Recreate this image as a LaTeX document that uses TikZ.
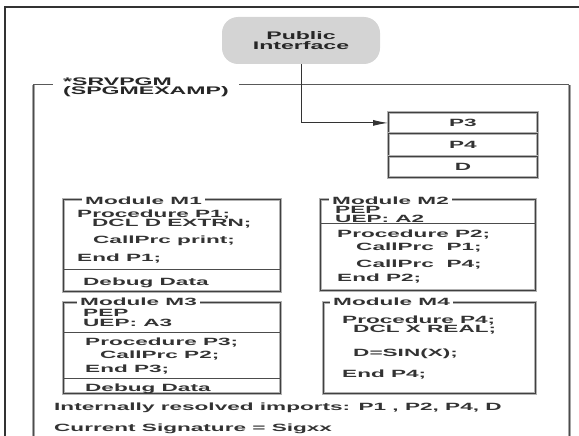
\documentclass[tikz,border=0pt]{standalone}
\usepackage{fontspec}
\usetikzlibrary{arrows.meta}
\newfontfamily\bodyfont{Liberation Sans}[FakeStretch=2.15]
\newfontfamily\headfont{Liberation Sans}[FakeStretch=2.1]

\tikzset{
  outerline/.style={draw=black!80, line width=1.4pt},
  sideline/.style={draw=black!70, line width=0.8pt, preaction={draw=black!35, line width=3pt}},
  topline/.style={draw=black!65, line width=1pt},
  boxline/.style={draw=black!75, line width=0.8pt, preaction={draw=black!30, line width=2.4pt}},
  modbox/.style={boxline, rectangle, inner sep=0pt, anchor=north west},
  sepline/.style={draw=black!70, line width=0.8pt},
  codetext/.style={anchor=base west, inner sep=0pt, text=black!80,
    text height=7.5pt, text depth=1pt,
    font=\bodyfont\bfseries\fontsize{10.5}{10.5}\selectfont},
  modtitle/.style={anchor=base west, fill=white, inner xsep=3pt, inner ysep=0.3pt,
    text height=7.5pt, text depth=1pt,
    text=black!80, font=\bodyfont\bfseries\fontsize{10.5}{10.5}\selectfont},
  headtext/.style={text=black!85, align=center,
    font=\headfont\bfseries\fontsize{11}{9.5}\selectfont},
  tablerow/.style={boxline, rectangle, inner sep=0pt, anchor=north west,
    minimum width=149pt, text=black!80, font=\bodyfont\bfseries\fontsize{10.5}{10.5}\selectfont},
  arrowline/.style={draw=black!80, line width=0.9pt, -{Latex[length=15pt,width=6pt]}}
}

\begin{document}
\begin{tikzpicture}[x=1pt,y=-1pt]
\useasboundingbox (0,0) rectangle (579,436);
\clip (0,0) rectangle (579,436);

% page frame, running off the right and bottom edges
\coordinate (pgbl) at (5,470);
\coordinate (pgtl) at (5,7);
\coordinate (pgtr) at (600,7);
\draw[outerline] (pgbl) -- (pgtl) -- (pgtr);

% service program frame
\coordinate (sbl) at (33,470);
\coordinate (stl) at (33,85);
\coordinate (str) at (569,85);
\coordinate (sbr) at (569,470);
\draw[topline] (stl) -- (str);
\draw[sideline] (sbl) -- (stl);
\draw[sideline] (str) -- (sbr);
\node (srv) [headtext, align=left, anchor=west, fill=white, inner xsep=10pt, inner ysep=1pt]
  at (53,87.5) {*SRVPGM\\(SPGMEXAMP)};

% public interface and export table
\node (pi) [headtext, fill=black!17, rounded corners=16pt, minimum width=158pt,
  minimum height=47pt, inner sep=0pt] at (301,40.5) {Public\\Interface};

\node (p3) [tablerow, minimum height=21pt] at (388,112) {P3};
\node (p4) [tablerow, minimum height=23pt] at (388,133) {P4};
\node (d)  [tablerow, minimum height=21pt] at (388,156) {D};
\draw[arrowline] (pi.south) |- (p3.west);

% Module M1
\node (m1) [modbox, minimum width=217pt, minimum height=92pt] at (63,199) {};
\coordinate (m1s) at (0,269);
\draw[sepline] (m1.west |- m1s) -- (m1.east |- m1s);
\node (m1t) [modtitle] at (82,204) {Module M1};
\node (m1a) [codetext] at (77,217) {Procedure P1;};
\node (m1b) [codetext] at (92,226.5) {DCL D EXTRN;};
\node (m1c) [codetext] at (93,243) {CallPrc print;};
\node (m1d) [codetext] at (77,261) {End P1;};
\node (m1e) [codetext] at (83,285) {Debug Data};

% Module M2
\node (m2) [modbox, minimum width=215pt, minimum height=91pt] at (320,199) {};
\coordinate (m2s) at (0,223);
\draw[sepline] (m2.west |- m2s) -- (m2.east |- m2s);
\node (m2t) [modtitle] at (329,204) {Module M2};
\node (m2a) [codetext] at (335,213) {PEP};
\node (m2b) [codetext] at (335,222) {UEP: A2};
\node (m2c) [codetext] at (337,237) {Procedure P2;};
\node (m2d) [codetext] at (356,250) {CallPrc\ \ P1;};
\node (m2e) [codetext] at (356,267) {CallPrc\ \ P4;};
\node (m2f) [codetext] at (337,281) {End P2;};

% Module M3
\node (m3) [modbox, minimum width=217pt, minimum height=91pt] at (63,302) {};
\coordinate (m3s) at (0,332);
\coordinate (m3u) at (0,378);
\draw[sepline] (m3.west |- m3s) -- (m3.east |- m3s);
\draw[sepline] (m3.west |- m3u) -- (m3.east |- m3u);
\node (m3t) [modtitle] at (77,305) {Module M3};
\node (m3a) [codetext] at (83,316.5) {PEP};
\node (m3b) [codetext] at (83,326) {UEP: A3};
\node (m3c) [codetext] at (85,345) {Procedure P3;};
\node (m3d) [codetext] at (100,358) {CallPrc P2;};
\node (m3e) [codetext] at (85,372) {End P3;};
\node (m3f) [codetext] at (85,391) {Debug Data};

% Module M4
\node (m4) [modbox, minimum width=212pt, minimum height=91pt] at (323,302) {};
\node (m4t) [modtitle] at (330,305) {Module M4};
\node (m4a) [codetext] at (342,323.5) {Procedure P4;};
\node (m4b) [codetext] at (353,332.5) {DCL X REAL;};
\node (m4c) [codetext] at (353,356) {D=SIN(X);};
\node (m4d) [codetext] at (342,377) {End P4;};

% program attributes
\node (imp) [codetext] at (54,410) {Internally resolved imports: P1 , P2, P4, D};
\node (sig) [codetext] at (54,431) {Current Signature = Sigxx};
\end{tikzpicture}
\end{document}
